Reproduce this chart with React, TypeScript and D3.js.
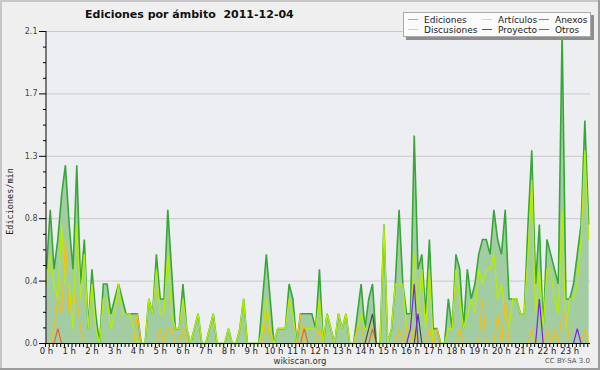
import * as d3 from 'd3';

const WIDTH = 600;
const HEIGHT = 370;
const plot = { left: 46, right: 590, top: 31.5, bottom: 343.5 };

// ediciones por minuto, un valor cada 10 minutos desde las 0 h
const ediciones = [
  0.5, 0.9, 0.5, 0.7, 1.0, 1.2, 0.8, 0.5, 1.2, 0.4,
  0.7, 0.1, 0.5, 0.2, 0.0, 0.4, 0.4, 0.2, 0.3, 0.4,
  0.3, 0.2, 0.2, 0.2, 0.2, 0.0, 0.0, 0.3, 0.2, 0.6,
  0.3, 0.3, 0.9, 0.5, 0.1, 0.1, 0.4, 0.1, 0.0, 0.1,
  0.2, 0.0, 0.0, 0.1, 0.2, 0.0, 0.0, 0.0, 0.1, 0.0,
  0.0, 0.1, 0.3, 0.0, 0.0, 0.0, 0.0, 0.3, 0.6, 0.3,
  0.0, 0.1, 0.1, 0.1, 0.4, 0.3, 0.0, 0.2, 0.2, 0.2,
  0.2, 0.1, 0.5, 0.0, 0.2, 0.1, 0.0, 0.2, 0.1, 0.2,
  0.0, 0.0, 0.2, 0.4, 0.1, 0.3, 0.4, 0.0, 0.0, 0.8,
  0.0, 0.1, 0.4, 0.9, 0.4, 0.2, 0.2, 1.4, 0.5, 0.6,
  0.2, 0.7, 0.1, 0.1, 0.0, 0.0, 0.3, 0.1, 0.6, 0.5,
  0.1, 0.5, 0.3, 0.4, 0.6, 0.7, 0.7, 0.6, 0.9, 0.7,
  0.6, 0.9, 0.3, 0.3, 0.3, 0.2, 0.2, 0.8, 1.3, 0.4,
  0.8, 0.1, 0.7, 0.6, 0.5, 0.4, 2.1, 0.3, 0.3, 0.4,
  0.6, 0.8, 1.5, 0.8,
];

const articulos = [
  0.4, 0.6, 0.4, 0.3, 0.8, 0.4, 0.4, 0.1, 0.8, 0.3,
  0.6, 0.1, 0.4, 0.1, 0.0, 0.3, 0.3, 0.1, 0.2, 0.4,
  0.2, 0.2, 0.2, 0.1, 0.0, 0.0, 0.0, 0.3, 0.2, 0.5,
  0.2, 0.2, 0.6, 0.2, 0.1, 0.1, 0.3, 0.1, 0.0, 0.1,
  0.2, 0.0, 0.0, 0.1, 0.2, 0.0, 0.0, 0.0, 0.1, 0.0,
  0.0, 0.1, 0.3, 0.0, 0.0, 0.0, 0.0, 0.1, 0.3, 0.1,
  0.0, 0.1, 0.1, 0.1, 0.3, 0.2, 0.0, 0.0, 0.1, 0.1,
  0.1, 0.1, 0.3, 0.0, 0.2, 0.1, 0.0, 0.2, 0.1, 0.2,
  0.0, 0.0, 0.1, 0.2, 0.1, 0.1, 0.1, 0.0, 0.0, 0.8,
  0.0, 0.1, 0.4, 0.4, 0.4, 0.1, 0.1, 0.6, 0.2, 0.5,
  0.1, 0.5, 0.0, 0.0, 0.0, 0.0, 0.1, 0.1, 0.5, 0.3,
  0.1, 0.2, 0.3, 0.2, 0.5, 0.4, 0.5, 0.5, 0.6, 0.3,
  0.4, 0.2, 0.1, 0.3, 0.3, 0.2, 0.2, 0.6, 1.1, 0.2,
  0.5, 0.1, 0.5, 0.5, 0.3, 0.2, 0.9, 0.1, 0.3, 0.3,
  0.4, 0.7, 1.3, 0.7,
];

const discusiones = [
  0.0, 0.0, 0.1, 0.3, 0.2, 0.7, 0.2, 0.3, 0.3, 0.1,
  0.0, 0.0, 0.0, 0.0, 0.0, 0.0, 0.0, 0.0, 0.0, 0.0,
  0.0, 0.0, 0.0, 0.0, 0.2, 0.0, 0.0, 0.0, 0.0, 0.0,
  0.1, 0.0, 0.1, 0.1, 0.0, 0.0, 0.1, 0.0, 0.0, 0.0,
  0.0, 0.0, 0.0, 0.0, 0.0, 0.0, 0.0, 0.0, 0.0, 0.0,
  0.0, 0.0, 0.0, 0.0, 0.0, 0.0, 0.0, 0.0, 0.2, 0.0,
  0.0, 0.0, 0.0, 0.0, 0.0, 0.0, 0.0, 0.2, 0.0, 0.0,
  0.0, 0.0, 0.1, 0.0, 0.0, 0.0, 0.0, 0.0, 0.0, 0.0,
  0.0, 0.0, 0.1, 0.1, 0.0, 0.0, 0.0, 0.0, 0.0, 0.0,
  0.0, 0.0, 0.0, 0.1, 0.0, 0.1, 0.0, 0.1, 0.0, 0.0,
  0.0, 0.1, 0.0, 0.1, 0.0, 0.0, 0.0, 0.0, 0.0, 0.1,
  0.0, 0.0, 0.0, 0.0, 0.0, 0.3, 0.0, 0.0, 0.0, 0.2,
  0.0, 0.3, 0.0, 0.0, 0.0, 0.0, 0.0, 0.0, 0.1, 0.0,
  0.0, 0.0, 0.1, 0.0, 0.1, 0.0, 0.2, 0.2, 0.0, 0.0,
  0.0, 0.0, 0.1, 0.0,
];

// series casi vacías: [franja de 10 min, valor]
const anexosPicos: [number, number][] = [[3, 0.1], [68, 0.1], [86, 0.1]];
const proyectoPicos: [number, number][] = [[85, 0.1], [86, 0.2], [98, 0.2]];
const otrosPicos: [number, number][] = [[96, 0.1], [97, 0.4], [130, 0.3], [140, 0.1]];

const expand = (picos: [number, number][]) => {
  const out = ediciones.map(() => 0);
  picos.forEach(([i, v]) => { out[i] = v; });
  return out;
};
const anexos = expand(anexosPicos);
const proyecto = expand(proyectoPicos);
const otros = expand(otrosPicos);

// minuto del día de cada franja
const minutos = ediciones.map((_, i) => i * 10 + 2.5);

const hourLabels = [
  '0 h', '1 h', '2 h', '3 h', '4 h', '5 h', '6 h', '7 h', '8 h', '9 h', '10 h', '11 h',
  '12 h', '13 h', '14 h', '15 h', '16 h', '17 h', '18 h', '19 h', '20 h', '21 h', '22 h', '23 h',
];
const yTickValues = [0, 0.42, 0.84, 1.26, 1.68, 2.1];
const yTickLabels = ['0.0', '0.4', '0.8', '1.3', '1.7', '2.1'];

const colors = {
  area: '#a2cda2',
  ediciones: '#37a837',
  articulos: '#b6ee00',
  discusiones: '#f2c012',
  anexos: '#f06224',
  proyecto: '#4a4a4a',
  otros: '#7a22f0',
};

const legend = [
  { label: 'Ediciones', color: '#7ccc7c', col: 0, row: 0 },
  { label: 'Artículos', color: '#c4ee50', col: 1, row: 0 },
  { label: 'Anexos', color: colors.anexos, col: 2, row: 0 },
  { label: 'Discusiones', color: '#f4d050', col: 0, row: 1 },
  { label: 'Proyecto', color: '#555555', col: 1, row: 1 },
  { label: 'Otros', color: '#8a40f0', col: 2, row: 1 },
];
const legendCols = [408, 482, 539];
const legendRows = [19.5, 29.5];

export default function App() {
  const x = d3.scaleLinear().domain([0, 1440]).range([45.5, 591.5]);
  const y = d3.scaleLinear().domain([0, 2.1]).range([plot.bottom, plot.top]);

  const line = d3
    .line<number>()
    .x((_, i) => x(minutos[i]))
    .y((d) => y(d));
  const area = d3
    .area<number>()
    .x((_, i) => x(minutos[i]))
    .y0(y(0))
    .y1((d) => y(d));

  const minorY = d3.range(0, 21).map((k) => k * 0.105);
  const minorX = d3.range(0, 1440, 10).filter((m) => x(m) <= plot.right + 0.5);

  const lines = [
    { data: ediciones, color: colors.ediciones, w: 1.6 },
    { data: articulos, color: colors.articulos, w: 1.3 },
    { data: discusiones, color: colors.discusiones, w: 1.2 },
    { data: anexos, color: colors.anexos, w: 1.2 },
    { data: proyecto, color: colors.proyecto, w: 1.2 },
    { data: otros, color: colors.otros, w: 1.2 },
  ];

  return (
    <svg
      width={WIDTH}
      height={HEIGHT}
      style={{ position: 'absolute', left: 0, top: 0 }}
      fontFamily="DejaVu Sans"
    >
      <defs>
        <clipPath id="plotclip">
          <rect x={plot.left} y={0} width={plot.right - plot.left} height={plot.bottom + 1} />
        </clipPath>
      </defs>
      <rect width={WIDTH} height={HEIGHT} fill="#efefef" />
      <rect
        x={plot.left}
        y={plot.top}
        width={plot.right - plot.left}
        height={plot.bottom - plot.top}
        fill="#edeef1"
      />

      {yTickValues.slice(1).map((v) => (
        <line key={v} x1={plot.left} x2={plot.right} y1={y(v)} y2={y(v)} stroke="#c9c9c9" strokeWidth={1} />
      ))}

      <g clipPath="url(#plotclip)">
        <path d={area(ediciones) || ''} fill={colors.area} />
        {lines.map((s, k) => (
          <path key={k} d={line(s.data) || ''} fill="none" stroke={s.color} strokeWidth={s.w} strokeLinejoin="miter" />
        ))}
      </g>

      {/* axes */}
      <line x1={plot.left} x2={plot.left} y1={plot.top - 0.5} y2={plot.bottom + 0.5} stroke="#000" />
      <line x1={plot.left} x2={plot.right} y1={plot.bottom} y2={plot.bottom} stroke="#000" />
      {minorY.map((v, k) => (
        <line key={k} x1={plot.left - (k % 4 === 0 ? 7 : 3)} x2={plot.left} y1={y(v)} y2={y(v)} stroke="#000" />
      ))}
      {yTickValues.map((v, k) => (
        <text key={v} x={37.5} y={y(v) + 2.5} fontSize={8} fill="#444" textAnchor="end">
          {yTickLabels[k]}
        </text>
      ))}
      {minorX.map((m) => (
        <line key={m} x1={x(m)} x2={x(m)} y1={plot.bottom} y2={plot.bottom + 3.5} stroke="#000" />
      ))}
      {hourLabels.map((h, k) => (
        <text key={h} x={x(k * 60) + 1} y={354} fontSize={8.5} fill="#222" textAnchor="middle">
          {h}
        </text>
      ))}

      <text
        transform={`translate(13,${y(1.05) + 14}) rotate(-90)`}
        fontFamily="DejaVu Sans Mono"
        fontSize={8.5}
        fill="#222"
        textAnchor="middle"
      >
        Ediciones/min
      </text>

      <text x={85} y={18} fontSize={11} fontWeight="bold" fill="#111">
        Ediciones por ámbito{'\u00a0\u00a0'}2011-12-04
      </text>

      {/* legend */}
      <rect x={406} y={15} width={188} height={25} fill="#8d8d8d" />
      <rect x={403.5} y={12.5} width={187} height={24} fill="#fbfbfb" stroke="#aaa" />
      {legend.map((l) => (
        <g key={l.label}>
          <line
            x1={legendCols[l.col]}
            x2={legendCols[l.col] + 10}
            y1={legendRows[l.row]}
            y2={legendRows[l.row]}
            stroke={l.color}
            strokeWidth={1}
          />
          <text x={legendCols[l.col] + 16} y={legendRows[l.row] + 3.2} fontSize={9} fill="#222">
            {l.label}
          </text>
        </g>
      ))}

      <text x={300} y={364} fontSize={8.5} fill="#333" textAnchor="middle">
        wikiscan.org
      </text>
      <text x={590} y={363} fontSize={7} fill="#555" textAnchor="end">
        CC BY-SA 3.0
      </text>

      {/* frame */}
      <line x1={0} x2={WIDTH} y1={1} y2={1} stroke="#c6c6c6" strokeWidth={2} />
      <line x1={1} x2={1} y1={0} y2={HEIGHT} stroke="#c6c6c6" strokeWidth={2} />
      <line x1={0} x2={WIDTH} y1={HEIGHT - 1} y2={HEIGHT - 1} stroke="#9c9c9c" strokeWidth={2} />
      <line x1={WIDTH - 1} x2={WIDTH - 1} y1={0} y2={HEIGHT} stroke="#9c9c9c" strokeWidth={2} />
    </svg>
  );
}
